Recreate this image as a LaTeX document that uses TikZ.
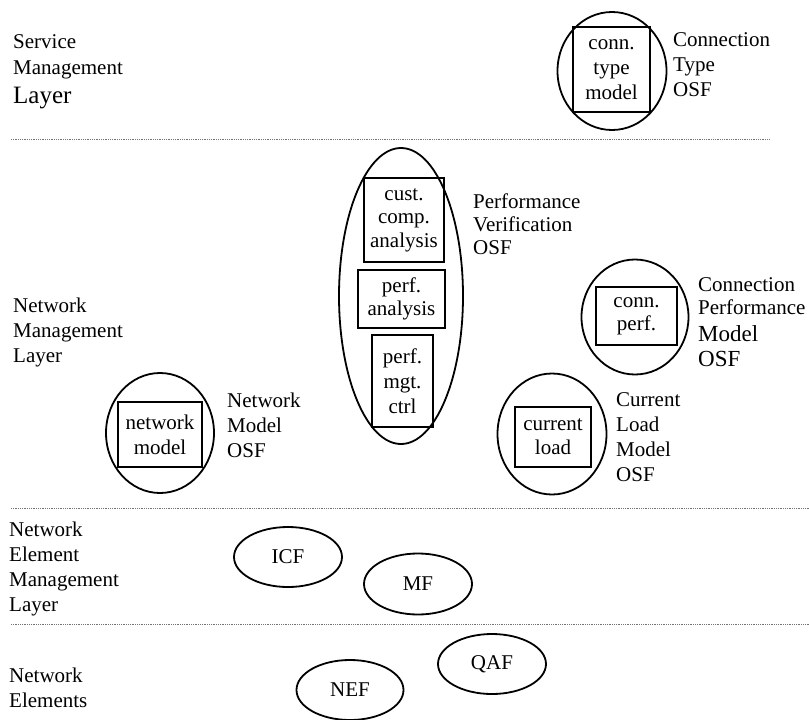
\documentclass[tikz,border=0pt]{standalone}
\usepackage{fontspec}
\setmainfont{Liberation Serif}
\usetikzlibrary{shapes.geometric}
\begin{document}
\begin{tikzpicture}[x=1pt,y=-1pt,
  every node/.style={font=\fontsize{21}{24}\selectfont},
  osf/.style={draw, ellipse, line width=1.8pt, inner sep=0pt},
  fnbox/.style={draw, rectangle, line width=1.8pt, inner sep=0pt, align=center},
  lbl/.style={anchor=north west, inner sep=0pt, align=left},
  sep/.style={line width=0.8pt, black!55, dash pattern=on 0.8pt off 1pt}]
\useasboundingbox (0,0) rectangle (809,720);

% layer separators
\draw[sep] (11,139) -- (770,139);
\draw[sep] (11,508) -- (809,508);
\draw[sep] (11,624) -- (809,624);

% layer names
\node[lbl, font=\fontsize{21}{26}\selectfont] (sml) at (13,34.7)
  {Service\\Management\\[3pt]{\fontsize{25}{26}\selectfont Layer}};
\node[lbl, font=\fontsize{21}{25}\selectfont] (nml) at (13,297.7)
  {Network\\Management\\Layer};
\node[lbl, font=\fontsize{21}{25}\selectfont] (neml) at (9,521.7)
  {Network\\Element\\Management\\Layer};
\node[lbl, font=\fontsize{21}{25}\selectfont] (nel) at (9,667.7)
  {Network\\Elements};

% connection type OSF
\node[osf, minimum width=109pt, minimum height=118pt] (ctE) at (612,71) {};
\node[fnbox, font=\fontsize{21}{25}\selectfont, minimum width=77pt, minimum height=85pt] (ct) at (611.5,69.5) {conn.\\type\\model};
\node[lbl, font=\fontsize{21}{25}\selectfont] (ctL) at (673,32.7) {Connection\\Type\\OSF};

% performance verification OSF
\node[osf, minimum width=124pt, minimum height=296pt] (pvE) at (401,296) {};
\node[fnbox, font=\fontsize{21}{23.5}\selectfont, minimum width=80pt, minimum height=84pt] (cca) at (404,220) {cust.\\comp.\\analysis};
\node[fnbox, font=\fontsize{21}{23}\selectfont, minimum width=87pt, minimum height=58pt] (pa) at (401.5,299) {perf.\\analysis};
\node[fnbox, font=\fontsize{21}{25}\selectfont, minimum width=61pt, minimum height=92pt] (pmc) at (402.5,381) {perf.\\mgt.\\ctrl};
\node[lbl, font=\fontsize{21}{23}\selectfont] (pvL) at (473,193.7) {Performance\\Verification\\OSF};

% connection performance model OSF
\node[osf, minimum width=107pt, minimum height=115pt] (cpE) at (635,317) {};
\node[fnbox, font=\fontsize{21}{23}\selectfont, minimum width=81pt, minimum height=58pt] (cp) at (636.5,316) {conn.\\perf.};
\node[lbl, font=\fontsize{21}{23}\selectfont] (cpL) at (698,277.7)
  {Connection\\Performance\\[4pt]{\fontsize{23}{23}\selectfont Model}\\[2pt]{\fontsize{23}{23}\selectfont OSF}};

% current load model OSF
\node[osf, minimum width=109pt, minimum height=121pt] (clE) at (552,434) {};
\node[fnbox, minimum width=76pt, minimum height=60pt] (cl) at (553,437) {current\\load};
\node[lbl, font=\fontsize{21}{25}\selectfont] (clL) at (616,392.7) {Current\\Load\\Model\\OSF};

% network model OSF
\node[osf, minimum width=108pt, minimum height=120pt] (nmE) at (160,433) {};
\node[fnbox, font=\fontsize{21}{25}\selectfont, minimum width=84pt, minimum height=65pt] (nm) at (160,434.5) {network\\model};
\node[lbl, font=\fontsize{21}{25}\selectfont] (nmL) at (227,392.7) {Network\\Model\\OSF};

% element management and network element functions
\node[osf, minimum width=108pt, minimum height=60pt] (icf) at (288,557) {ICF};
\node[osf, minimum width=108pt, minimum height=61pt] (mf) at (418,584) {MF};
\node[osf, minimum width=108pt, minimum height=60pt] (qaf) at (492,664) {QAF};
\node[osf, minimum width=107pt, minimum height=60pt] (nef) at (350,690) {NEF};
\end{tikzpicture}
\end{document}
